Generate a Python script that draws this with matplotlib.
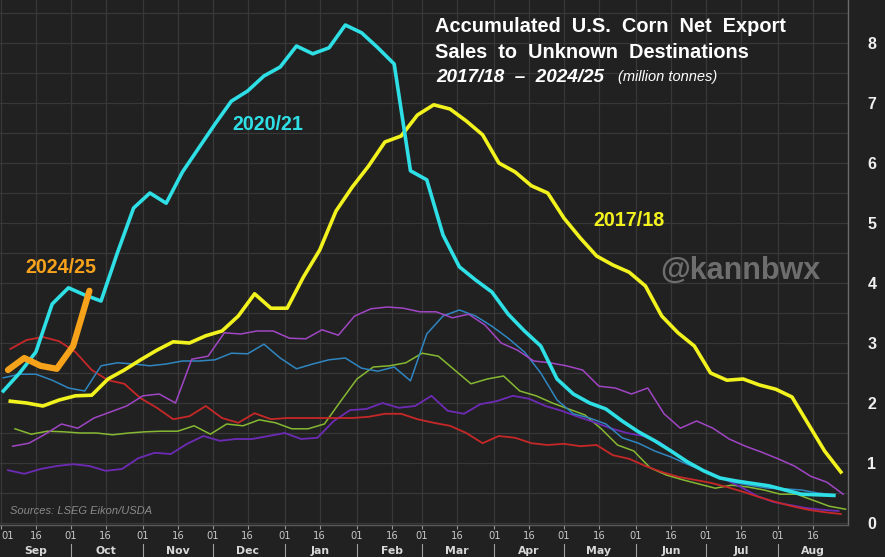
import numpy as np
import matplotlib
matplotlib.use("Agg")
import matplotlib.pyplot as plt
from matplotlib.lines import Line2D

# ---------------- data ----------------
months = ["Sep", "Oct", "Nov", "Dec", "Jan", "Feb", "Mar", "Apr", "May", "Jun", "Jul", "Aug"]
month_lengths = [30, 31, 30, 31, 31, 28, 31, 30, 31, 30, 31, 31]
day_labels = ["01", "16"]
y_ticks = [0, 1, 2, 3, 4, 5, 6, 7, 8]

# first weekly observation (days after Sep 1) and weekly cumulative values (million tonnes)
start_2020_21 = 1
vals_2020_21 = [2.2, 2.5, 2.85, 3.65, 3.92, 3.8, 3.7, 4.5, 5.25, 5.5,
                5.33, 5.85, 6.25, 6.65, 7.03, 7.2, 7.45, 7.6, 7.95, 7.82,
                7.92, 8.3, 8.17, 7.92, 7.65, 5.87, 5.72, 4.8, 4.27, 4.05,
                3.85, 3.48, 3.2, 2.95, 2.4, 2.15, 2.0, 1.9, 1.7, 1.52,
                1.37, 1.2, 1.02, 0.87, 0.75, 0.7, 0.66, 0.62, 0.55, 0.48,
                0.47, 0.46]

start_2017_18 = 4
vals_2017_18 = [2.03, 2.0, 1.95, 2.05, 2.12, 2.13, 2.4, 2.55, 2.72, 2.88,
                3.02, 3.0, 3.12, 3.2, 3.45, 3.82, 3.58, 3.58, 4.1, 4.55,
                5.2, 5.6, 5.95, 6.35, 6.45, 6.8, 6.97, 6.9, 6.7, 6.47,
                6.0, 5.85, 5.62, 5.5, 5.08, 4.75, 4.45, 4.3, 4.18, 3.95,
                3.45, 3.17, 2.95, 2.5, 2.38, 2.4, 2.3, 2.23, 2.1, 1.65,
                1.2, 0.85]

start_2024_25 = 3
vals_2024_25 = [2.55, 2.75, 2.62, 2.57, 2.95, 3.87]

start_red = 4
vals_red = [2.9, 3.05, 3.1, 3.03, 2.85, 2.55, 2.38, 2.32, 2.08, 1.92,
            1.73, 1.78, 1.95, 1.75, 1.67, 1.83, 1.73, 1.75, 1.75, 1.75,
            1.75, 1.75, 1.77, 1.82, 1.82, 1.73, 1.67, 1.62, 1.5, 1.33,
            1.45, 1.42, 1.33, 1.3, 1.32, 1.28, 1.3, 1.13, 1.07, 0.95,
            0.85, 0.77, 0.72, 0.67, 0.6, 0.52, 0.43, 0.35, 0.28, 0.22,
            0.18, 0.15]

start_blue = 1
vals_blue = [2.42, 2.48, 2.48, 2.38, 2.25, 2.2, 2.62, 2.67, 2.65, 2.62,
             2.65, 2.7, 2.7, 2.72, 2.83, 2.82, 2.98, 2.75, 2.57, 2.65,
             2.72, 2.75, 2.58, 2.53, 2.6, 2.37, 3.15, 3.45, 3.55, 3.45,
             3.28, 3.08, 2.85, 2.5, 2.05, 1.82, 1.75, 1.65, 1.42, 1.33,
             1.2, 1.1, 0.98, 0.87, 0.75, 0.67, 0.62, 0.58, 0.57, 0.55,
             0.5, 0.47]

start_violet = 5
vals_violet = [1.28, 1.33, 1.48, 1.65, 1.58, 1.75, 1.85, 1.95, 2.12, 2.15,
               2.0, 2.73, 2.78, 3.17, 3.15, 3.2, 3.2, 3.08, 3.07, 3.22,
               3.13, 3.45, 3.57, 3.6, 3.58, 3.52, 3.52, 3.42, 3.48, 3.3,
               3.0, 2.88, 2.7, 2.67, 2.62, 2.55, 2.28, 2.25, 2.15, 2.25,
               1.82, 1.58, 1.7, 1.58, 1.4, 1.28, 1.18, 1.07, 0.95, 0.78,
               0.68, 0.48]

start_green = 6
vals_green = [1.57, 1.48, 1.53, 1.52, 1.5, 1.5, 1.47, 1.5, 1.52, 1.53,
              1.53, 1.62, 1.48, 1.65, 1.62, 1.72, 1.67, 1.57, 1.57, 1.65,
              2.03, 2.4, 2.6, 2.62, 2.67, 2.83, 2.78, 2.55, 2.32, 2.4,
              2.45, 2.2, 2.12, 2.0, 1.9, 1.8, 1.57, 1.3, 1.2, 0.92,
              0.8, 0.72, 0.65, 0.58, 0.63, 0.6, 0.55, 0.48, 0.48, 0.38,
              0.28, 0.23]

start_purple = 3
vals_purple = [0.88, 0.82, 0.9, 0.95, 0.98, 0.95, 0.87, 0.9, 1.08, 1.17,
               1.15, 1.32, 1.45, 1.37, 1.4, 1.4, 1.45, 1.5, 1.4, 1.42,
               1.7, 1.88, 1.9, 2.0, 1.92, 1.95, 2.12, 1.87, 1.82, 1.98,
               2.03, 2.12, 2.07, 1.95, 1.87, 1.77, 1.68, 1.58, 1.5, 1.45,
               1.35, 1.15, 0.95, 0.85, 0.73, 0.6, 0.45, 0.35, 0.3, 0.25,
               0.22, 0.2]

# ---------------- figure ----------------
BG = "#212121"
GRID = "#383838"
fig = plt.figure(figsize=(8.85, 5.57), dpi=100, facecolor=BG)
W, H = 885, 557
ax = fig.add_axes([0, (H - 525) / H, 848 / W, 525 / H], facecolor=BG)


def xs(start, vals):
    return start + 7 * np.arange(len(vals))


thin = 1.1
ax.plot(xs(start_green, vals_green), vals_green, color="#86b832", lw=thin, zorder=3)
ax.plot(xs(start_purple, vals_purple), vals_purple, color="#6d2bb5", lw=1.3, zorder=3)
ax.plot(xs(start_red, vals_red), vals_red, color="#c62828", lw=1.3, zorder=3)
ax.plot(xs(start_blue, vals_blue), vals_blue, color="#2f86c0", lw=thin, zorder=3)
ax.plot(xs(start_violet, vals_violet), vals_violet, color="#a046c4", lw=thin, zorder=3)
ax.plot(xs(start_2017_18, vals_2017_18), vals_2017_18, color="#f2f21e", lw=2.6, zorder=4)
ax.plot(xs(start_2020_21, vals_2020_21), vals_2020_21, color="#2ee0e6", lw=2.6, zorder=5)
ax.plot(xs(start_2024_25, vals_2024_25), vals_2024_25, color="#f7a21b", lw=4.5,
        solid_capstyle="round", zorder=6)

# axes limits (px mapping: 0 -> y=523, 60 px per unit)
ax.set_ylim(-2 / 60, 523 / 60)
ax.set_xlim(-1 / 2.332, 849 / 2.332)

# grid
month_starts = np.concatenate([[0], np.cumsum(month_lengths)[:-1]])
mids = month_starts + 15
xt = np.sort(np.concatenate([month_starts, mids]))
ax.set_xticks(xt)
ax.set_xticklabels([day_labels[0] if t in month_starts else day_labels[1] for t in xt])
ax.set_yticks(np.arange(0, 8.75, 0.5), minor=True)
ax.set_yticks(y_ticks)
ax.set_yticklabels([str(v) for v in y_ticks])
ax.grid(True, which="both", axis="y", color=GRID, lw=0.9, zorder=0)
ax.grid(True, which="major", axis="x", color=GRID, lw=0.9, zorder=0)
ax.set_axisbelow(True)

ax.yaxis.tick_right()
ax.tick_params(axis="y", which="both", length=0, pad=14)
for lab in ax.get_yticklabels():
    lab.set_fontfamily("Liberation Sans")
    lab.set_fontweight("bold")
    lab.set_fontsize(11.5)
    lab.set_color("#f0f0f0")
ax.tick_params(axis="x", length=3, width=0.8, color="#9a9a9a", pad=1.5,
               labelsize=7.2, labelcolor="#c8c8c8")
ax.get_xticklabels()[0].set_horizontalalignment("left")

for sp in ["left", "top"]:
    ax.spines[sp].set_visible(False)
ax.spines["bottom"].set_color("#5a5a5a")
ax.spines["right"].set_color("#6a6a6a")
ax.spines["bottom"].set_linewidth(1.0)
ax.spines["right"].set_linewidth(1.0)

# month labels and separators
tr = ax.get_xaxis_transform()
for m, s in zip(months, month_starts):
    ax.text(s + 15, -0.049, m, transform=tr, ha="center", va="center",
            fontsize=7.8, fontweight="bold", color="#d8d8d8", clip_on=False)
    if s > 0:
        ax.add_line(Line2D([s, s], [-0.036, -0.065], transform=tr, color="#a0a0a0",
                           lw=0.8, clip_on=False))

# title block
tf = "Liberation Sans"
fig.text(435 / W, 1 - 27 / H, "Accumulated  U.S.  Corn  Net  Export", family=tf,
         fontsize=14.4, fontweight="bold", color="white", va="center", ha="left")
fig.text(435 / W, 1 - 52 / H, "Sales  to  Unknown  Destinations", family=tf,
         fontsize=14.4, fontweight="bold", color="white", va="center", ha="left")
fig.text(436 / W, 1 - 77 / H, "2017/18  \u2013  2024/25", family=tf,
         fontsize=13.6, fontweight="bold", style="italic", color="white",
         va="center", ha="left")
fig.text(618 / W, 1 - 77 / H, "(million tonnes)", family=tf,
         fontsize=10.5, style="italic", color="white", va="center", ha="left")

# series labels
fig.text(268 / W, 1 - 124 / H, "2020/21", family=tf, fontsize=14.2,
         fontweight="bold", color="#2ee0e6", ha="center", va="center")
fig.text(629 / W, 1 - 220 / H, "2017/18", family=tf, fontsize=14.2,
         fontweight="bold", color="#f2f21e", ha="center", va="center")
fig.text(61 / W, 1 - 267 / H, "2024/25", family=tf, fontsize=14.2,
         fontweight="bold", color="#f7a21b", ha="center", va="center")

# watermark and source
fig.text(740 / W, 1 - 271 / H, "@kannbwx", family=tf, fontsize=22,
         fontweight="bold", color="#6e6e6e", ha="center", va="center")
fig.text(10 / W, 1 - 511 / H, "Sources: LSEG Eikon/USDA", family=tf, fontsize=8,
         style="italic", color="#8a8a8a", ha="left", va="center")

fig.savefig("out.png", dpi=100, facecolor=BG)
